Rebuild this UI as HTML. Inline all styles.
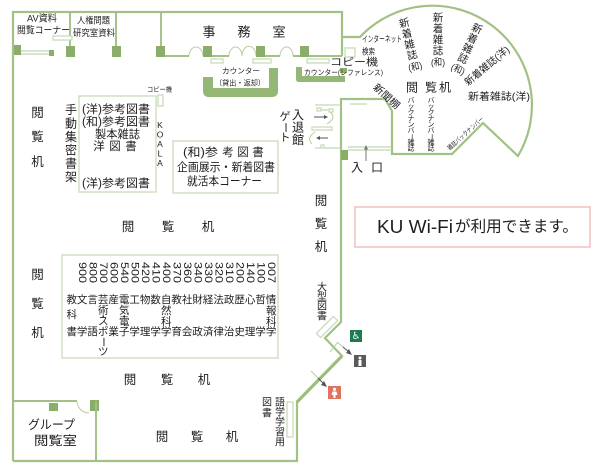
<!DOCTYPE html>
<html><head><meta charset="utf-8">
<style>
html,body{margin:0;padding:0;background:#fff;}
svg{display:block}
text{font-family:"Liberation Sans","Noto Sans CJK JP",sans-serif;fill:#1e1e1e;dominant-baseline:central;text-anchor:middle}
text.s{text-anchor:start}
.w{stroke:#a2c184;stroke-width:2.2;fill:none}
.w2{stroke:#a2c184;stroke-width:1.9;fill:none}
.th{stroke:#b6cf9f;stroke-width:1;fill:none}
.b{stroke:#cadcba;stroke-width:1.3;fill:#fff}
.p{fill:#8aae6a}
.c{fill:#95b776}
.ar{stroke:#555;stroke-width:1;fill:none}
</style></head><body>
<svg width="600" height="473" viewBox="0 0 600 473" xmlns="http://www.w3.org/2000/svg">
<rect width="600" height="473" fill="#fff"/>

<!-- outer walls -->
<path class="w" d="M13,461 V12 H342 V56"/>
<path class="w" d="M342,37 H360 A99.5,99.5 0 0 1 518,156 L483,123 L452,154 H392 V111 L385,99 H341 V322 L325,338 L342,356 L297,402 V461 H13"/>
<line x1="342" y1="356" x2="297" y2="402" stroke="#9dbd7c" stroke-width="3.2"/>

<!-- inner walls top -->
<path class="w2" d="M70,12 V47 M116,12 V47 M161,12 V47 M165,56 H189 M212,56 H229 M265,56 H280 M293,56 H300 M309,56 H342"/>
<path class="th" d="M189,56 A7,9 0 0 1 203,56 M229,56 A6.5,9 0 0 1 242,56 A6.5,9 0 0 1 256,56 M280,56 A6.5,9 0 0 1 293,56"/>
<path class="th" d="M21,51 H50 M21,54 H50"/>

<!-- pillars -->
<rect class="p" x="14" y="45" width="7" height="10"/>
<rect class="p" x="49" y="50" width="5" height="6"/>
<rect class="p" x="66" y="46" width="9" height="11"/>
<rect class="p" x="112" y="46" width="9" height="11"/>
<rect class="p" x="156" y="46" width="9" height="11"/>
<rect class="p" x="203" y="46" width="9" height="11"/>
<rect class="p" x="256" y="46" width="9" height="11"/>
<rect class="p" x="300" y="46" width="9" height="11"/>
<rect class="p" x="340" y="68" width="7" height="5"/>
<rect class="p" x="341" y="150" width="7" height="10"/>
<rect class="p" x="49" y="403" width="9" height="8"/>
<rect class="p" x="90" y="400" width="9" height="11"/>

<!-- small furniture -->
<rect class="b" x="53" y="36" width="19" height="4"/>
<rect class="b" x="211" y="59" width="12" height="4"/>
<rect class="b" x="253" y="59" width="18" height="4"/>
<rect class="b" x="307" y="59" width="22" height="4"/>
<rect class="b" x="345" y="48" width="10" height="9"/>
<rect class="b" x="158" y="95" width="5" height="11"/>
<rect class="b" x="287" y="402" width="6" height="35"/>

<!-- counters -->
<path class="c" d="M203,77 L203,91 Q203,97 209,97 L272,97 Q278,97 278,91 L278,68 L269,68 L269,88 L213,88 L213,77 Z"/>
<path class="c" d="M296,67 L296,79 Q296,82 299,82 L345,82 L345,76 L302,76 L302,67 Z"/>

<!-- boxes -->
<rect class="b" x="79" y="96" width="77" height="96" fill="none"/>
<rect class="b" x="173" y="141" width="105" height="52" fill="none"/>
<rect class="b" x="62" y="255" width="216" height="103" fill="none"/>

<!-- group room -->
<path class="w2" d="M13,401 H77 M96,401 V461"/>
<path class="th" d="M77,401 A12,12 0 0 0 89,413"/>

<!-- gate -->
<path class="th" d="M315,105 H341 M315,148 H341 M321,110 H329 M330,112 Q337,118 327,124 M315,132 Q306,138 312,144"/>
<rect class="b" x="317" y="108" width="4" height="3" stroke-width="0.8"/>
<rect class="b" x="329" y="109" width="4" height="3" stroke-width="0.8"/>
<rect class="b" x="312" y="127" width="20" height="3" stroke-width="0.8"/>
<rect class="b" x="321" y="145" width="3" height="3" stroke-width="0.8"/>
<line class="ar" x1="314" y1="117" x2="325" y2="117"/>
<polygon points="328,117 324,115 324,119" fill="#555"/>
<line class="ar" x1="328" y1="138" x2="319" y2="138"/>
<polygon points="316,138 320,136 320,140" fill="#555"/>

<!-- lobby -->
<path class="th" d="M348,147 H392 M348,150 H392 M350,104 H367"/>
<line x1="366" y1="161" x2="366" y2="148" stroke="#777" stroke-width="1"/>
<polygon points="366,145 364,149.5 368,149.5" fill="#777"/>

<!-- diagonal details -->
<rect class="b" x="-12" y="-3" width="24" height="6" transform="translate(327,327) rotate(-45)"/>
<path class="th" d="M330,352 L338,342 M337,342 L343,347 M311,371 L318,378"/>
<line class="ar" x1="343" y1="347" x2="349" y2="352"/>
<polygon points="352,355 346,353 349,349" fill="#555"/>
<line class="ar" x1="318" y1="378" x2="324" y2="384"/>
<polygon points="327,387 321,385 324,381" fill="#555"/>

<!-- icons -->
<rect x="350" y="330" width="12" height="12" fill="#1e7a50"/>
<text x="356" y="336.5" font-size="10" style="font-family:'DejaVu Sans',sans-serif;fill:#fff">♿</text>
<rect x="354" y="355" width="12" height="12" fill="#5a5a5a"/>
<circle cx="360" cy="358" r="1.5" fill="#fff"/>
<rect x="358.5" y="360" width="3" height="6" fill="#fff"/>
<rect x="328" y="386" width="13" height="13" fill="#e0735f"/>
<circle cx="334.5" cy="389.3" r="1.6" fill="#fff"/>
<path d="M332.5,391.5 H336.5 L337.5,395 H335.5 V398 H333.5 V395 H331.5 Z" fill="#fff"/>

<!-- Wi-Fi box -->
<rect x="355" y="207" width="235" height="40" fill="none" stroke="#f0b0b0" stroke-width="1.2"/>
<text class="s" x="377" y="227" font-size="18" textLength="76" lengthAdjust="spacingAndGlyphs">KU Wi-Fi</text>
<text class="s" x="455" y="227" font-size="15.5" textLength="123" lengthAdjust="spacingAndGlyphs">が利用できます。</text>

<!-- top room texts -->
<text class="s" x="27" y="19" font-size="9.5" textLength="30" lengthAdjust="spacingAndGlyphs">AV資料</text>
<text class="s" x="17" y="31" font-size="9.5" textLength="53" lengthAdjust="spacingAndGlyphs">閲覧コーナー</text>
<text class="s" x="77" y="20.5" font-size="9" textLength="33" lengthAdjust="spacingAndGlyphs">人権問題</text>
<text class="s" x="73" y="33" font-size="9" textLength="42" lengthAdjust="spacingAndGlyphs">研究室資料</text>
<text x="209" y="32" font-size="13">事</text>
<text x="244" y="32" font-size="13">務</text>
<text x="279" y="32" font-size="13">室</text>
<text class="s" x="222" y="71" font-size="7.5" textLength="38" lengthAdjust="spacingAndGlyphs">カウンター</text>
<text class="s" x="215" y="83" font-size="7.5" textLength="50" lengthAdjust="spacingAndGlyphs">（貸出・返却）</text>
<text class="s" x="330" y="63" font-size="10" textLength="48" lengthAdjust="spacingAndGlyphs">コピー機</text>
<text class="s" x="304" y="72.5" font-size="7.5" textLength="79" lengthAdjust="spacingAndGlyphs">カウンター(レファレンス)</text>
<text class="s" x="362" y="39" font-size="8.5" textLength="40" lengthAdjust="spacingAndGlyphs">インターネット</text>
<text class="s" x="362" y="51.5" font-size="8.5" textLength="13" lengthAdjust="spacingAndGlyphs">検索</text>
<text class="s" x="147" y="90" font-size="6.5" textLength="25" lengthAdjust="spacingAndGlyphs">コピー機</text>

<!-- KOALA -->
<text x="160" y="125" font-size="8.5">K</text>
<text x="160" y="134.5" font-size="8.5">O</text>
<text x="160" y="144" font-size="8.5">A</text>
<text x="160" y="153.5" font-size="8.5">L</text>
<text x="160" y="163" font-size="8.5">A</text>

<!-- box1 -->
<text class="s" x="82" y="110" font-size="11.5" textLength="68" lengthAdjust="spacingAndGlyphs">(洋)参考図書</text>
<text class="s" x="82" y="122.5" font-size="11.5" textLength="68" lengthAdjust="spacingAndGlyphs">(和)参考図書</text>
<text class="s" x="95" y="135" font-size="11.5" textLength="45" lengthAdjust="spacingAndGlyphs">製本雑誌</text>
<text x="99" y="147" font-size="11.5">洋</text>
<text x="115" y="147" font-size="11.5">図</text>
<text x="131" y="147" font-size="11.5">書</text>
<text class="s" x="82" y="184" font-size="11.5" textLength="68" lengthAdjust="spacingAndGlyphs">(洋)参考図書</text>

<!-- 手動集密書架 -->
<text x="71" y="110" font-size="12">手</text>
<text x="71" y="123.4" font-size="12">動</text>
<text x="71" y="136.8" font-size="12">集</text>
<text x="71" y="150.2" font-size="12">密</text>
<text x="71" y="163.6" font-size="12">書</text>
<text x="71" y="177" font-size="12">架</text>

<!-- box2 -->
<text class="s" x="183" y="153" font-size="11.5" textLength="35" lengthAdjust="spacingAndGlyphs">(和)参</text>
<text x="228" y="153" font-size="11.5">考</text>
<text x="243" y="153" font-size="11.5">図</text>
<text x="258" y="153" font-size="11.5">書</text>
<text class="s" x="177" y="168" font-size="11.5" textLength="98" lengthAdjust="spacingAndGlyphs">企画展示・新着図書</text>
<text class="s" x="187" y="182" font-size="11.5" textLength="75" lengthAdjust="spacingAndGlyphs">就活本コーナー</text>

<!-- 閲覧机 labels -->
<text x="37.5" y="113" font-size="12.5">閲</text>
<text x="37.5" y="137" font-size="12.5">覧</text>
<text x="37.5" y="162" font-size="12.5">机</text>
<text x="37.5" y="275" font-size="12.5">閲</text>
<text x="37.5" y="304" font-size="12.5">覧</text>
<text x="37.5" y="333" font-size="12.5">机</text>
<text x="128" y="227" font-size="12.5">閲</text>
<text x="168" y="227" font-size="12.5">覧</text>
<text x="208" y="227" font-size="12.5">机</text>
<text x="130" y="380" font-size="12.5">閲</text>
<text x="167" y="380" font-size="12.5">覧</text>
<text x="204" y="380" font-size="12.5">机</text>
<text x="162" y="437" font-size="12.5">閲</text>
<text x="197" y="437" font-size="12.5">覧</text>
<text x="232" y="437" font-size="12.5">机</text>
<text x="321" y="201" font-size="12.5">閲</text>
<text x="321" y="224" font-size="12.5">覧</text>
<text x="321" y="247" font-size="12.5">机</text>
<text x="412" y="87.5" font-size="12">閲</text>
<text x="431" y="87.5" font-size="12">覧</text>
<text x="445" y="87.5" font-size="12">机</text>

<!-- subject table numbers -->
<text class="s" x="-10.5" transform="translate(82.2,272.5) rotate(90)" font-size="11" textLength="21" lengthAdjust="spacingAndGlyphs">900</text>
<text class="s" x="-10.5" transform="translate(92.7,272.5) rotate(90)" font-size="11" textLength="21" lengthAdjust="spacingAndGlyphs">800</text>
<text class="s" x="-10.5" transform="translate(103.2,272.5) rotate(90)" font-size="11" textLength="21" lengthAdjust="spacingAndGlyphs">700</text>
<text class="s" x="-10.5" transform="translate(113.7,272.5) rotate(90)" font-size="11" textLength="21" lengthAdjust="spacingAndGlyphs">600</text>
<text class="s" x="-10.5" transform="translate(124.2,272.5) rotate(90)" font-size="11" textLength="21" lengthAdjust="spacingAndGlyphs">540</text>
<text class="s" x="-10.5" transform="translate(134.7,272.5) rotate(90)" font-size="11" textLength="21" lengthAdjust="spacingAndGlyphs">500</text>
<text class="s" x="-10.5" transform="translate(145.2,272.5) rotate(90)" font-size="11" textLength="21" lengthAdjust="spacingAndGlyphs">420</text>
<text class="s" x="-10.5" transform="translate(155.7,272.5) rotate(90)" font-size="11" textLength="21" lengthAdjust="spacingAndGlyphs">410</text>
<text class="s" x="-10.5" transform="translate(166.2,272.5) rotate(90)" font-size="11" textLength="21" lengthAdjust="spacingAndGlyphs">400</text>
<text class="s" x="-10.5" transform="translate(176.7,272.5) rotate(90)" font-size="11" textLength="21" lengthAdjust="spacingAndGlyphs">370</text>
<text class="s" x="-10.5" transform="translate(187.2,272.5) rotate(90)" font-size="11" textLength="21" lengthAdjust="spacingAndGlyphs">360</text>
<text class="s" x="-10.5" transform="translate(197.7,272.5) rotate(90)" font-size="11" textLength="21" lengthAdjust="spacingAndGlyphs">340</text>
<text class="s" x="-10.5" transform="translate(208.2,272.5) rotate(90)" font-size="11" textLength="21" lengthAdjust="spacingAndGlyphs">330</text>
<text class="s" x="-10.5" transform="translate(218.7,272.5) rotate(90)" font-size="11" textLength="21" lengthAdjust="spacingAndGlyphs">320</text>
<text class="s" x="-10.5" transform="translate(229.2,272.5) rotate(90)" font-size="11" textLength="21" lengthAdjust="spacingAndGlyphs">310</text>
<text class="s" x="-10.5" transform="translate(239.7,272.5) rotate(90)" font-size="11" textLength="21" lengthAdjust="spacingAndGlyphs">200</text>
<text class="s" x="-10.5" transform="translate(250.2,272.5) rotate(90)" font-size="11" textLength="21" lengthAdjust="spacingAndGlyphs">140</text>
<text class="s" x="-10.5" transform="translate(260.7,272.5) rotate(90)" font-size="11" textLength="21" lengthAdjust="spacingAndGlyphs">100</text>
<text class="s" x="-10.5" transform="translate(271.2,272.5) rotate(90)" font-size="11" textLength="21" lengthAdjust="spacingAndGlyphs">007</text>

<!-- subject table chars -->
<text class="s" x="66.45" y="300" font-size="10.5" textLength="210" lengthAdjust="spacingAndGlyphs">教文言芸産電工物数自教社財経法政歴心哲情</text>
<text class="s" x="66.45" y="332" font-size="10.5" textLength="210" lengthAdjust="spacingAndGlyphs">書学語ポ業子学理学学育会政済律治史理学学</text>
<text x="71.7" y="315" font-size="10.5">科</text>
<text x="103.2" y="310.5" font-size="10.5">術</text>
<text x="103.2" y="316.5" font-size="8">・</text>
<text x="103.2" y="321.5" font-size="10.5">ス</text>
<text x="103.2" y="342" font-size="10.5" transform="rotate(90 103.2 342)">ー</text>
<text x="103.2" y="352" font-size="10.5">ツ</text>
<text x="124.2" y="310.5" font-size="10.5">気</text>
<text x="124.2" y="316.5" font-size="8">・</text>
<text x="124.2" y="322" font-size="10.5">電</text>
<text x="166.2" y="311" font-size="10.5">然</text>
<text x="166.2" y="322" font-size="10.5">科</text>
<text x="271.2" y="311" font-size="10.5">報</text>
<text x="271.2" y="322" font-size="10.5">科</text>

<!-- right side vertical texts -->
<text x="322" y="288" font-size="10">大</text>
<text x="322" y="297.5" font-size="10">型</text>
<text x="322" y="307" font-size="10">図</text>
<text x="322" y="317" font-size="10">書</text>
<text x="280" y="403" font-size="10">語</text>
<text x="280" y="413" font-size="10">学</text>
<text x="280" y="423" font-size="10">学</text>
<text x="280" y="433" font-size="10">習</text>
<text x="280" y="443" font-size="10">用</text>
<text x="267" y="403" font-size="10">図</text>
<text x="267" y="414" font-size="10">書</text>

<!-- group room -->
<text class="s" x="28" y="425" font-size="12.5" textLength="47" lengthAdjust="spacingAndGlyphs">グループ</text>
<text class="s" x="34" y="441" font-size="12.5" textLength="43" lengthAdjust="spacingAndGlyphs">閲覧室</text>

<!-- gate / entrance -->
<text x="298" y="115" font-size="12">入</text>
<text x="298" y="127.5" font-size="12">退</text>
<text x="298" y="140" font-size="12">館</text>
<text x="285" y="117" font-size="11">ゲ</text>
<text x="285" y="127.5" font-size="11" transform="rotate(90 285 127.5)">ー</text>
<text x="285" y="138" font-size="11">ト</text>
<text x="357" y="167.5" font-size="12">入</text>
<text x="377" y="167.5" font-size="12">口</text>
<g transform="translate(386,97) rotate(42)">
<text class="s" x="-16" y="0" font-size="10" textLength="32" lengthAdjust="spacingAndGlyphs">新聞棚</text>
</g>

<!-- fan texts -->
<g transform="translate(410,46) rotate(-14)">
<text x="0" y="-23" font-size="10.5">新</text>
<text x="0" y="-12" font-size="10.5">着</text>
<text x="0" y="-1" font-size="10.5">雑</text>
<text x="0" y="10" font-size="10.5">誌</text>
<text class="s" x="-7" y="22" font-size="9.5" textLength="14" lengthAdjust="spacingAndGlyphs">(和)</text>
</g>
<g transform="translate(438,41)">
<text x="0" y="-23" font-size="10.5">新</text>
<text x="0" y="-12" font-size="10.5">着</text>
<text x="0" y="-1" font-size="10.5">雑</text>
<text x="0" y="10" font-size="10.5">誌</text>
<text class="s" x="-7" y="22" font-size="9.5" textLength="14" lengthAdjust="spacingAndGlyphs">(和)</text>
</g>
<g transform="translate(467,50) rotate(25)">
<text x="0" y="-23" font-size="10.5">新</text>
<text x="0" y="-12" font-size="10.5">着</text>
<text x="0" y="-1" font-size="10.5">雑</text>
<text x="0" y="10" font-size="10.5">誌</text>
<text class="s" x="-7" y="22" font-size="9.5" textLength="14" lengthAdjust="spacingAndGlyphs">(和)</text>
</g>
<g transform="translate(487.5,66.5) rotate(-40)">
<text class="s" x="-27.5" y="0" font-size="10" textLength="55" lengthAdjust="spacingAndGlyphs">新着雑誌(洋)</text>
</g>
<text class="s" x="468" y="97.5" font-size="10" textLength="62" lengthAdjust="spacingAndGlyphs">新着雑誌(洋)</text>
<g transform="translate(466,134) rotate(-42)">
<text class="s" x="-23" y="0" font-size="6.5" textLength="46" lengthAdjust="spacingAndGlyphs">雑誌バックナンバー</text>
</g>

<!-- back number columns -->
<g font-size="7">
<text x="411" y="101" font-size="7">バ</text>
<text x="411" y="107" font-size="7">ッ</text>
<text x="411" y="113" font-size="7">ク</text>
<text x="411" y="119" font-size="7">ナ</text>
<text x="411" y="125" font-size="7">ン</text>
<text x="411" y="131" font-size="7">バ</text>
<text x="411" y="137" font-size="7" transform="rotate(90 411 137)">ー</text>
<text x="411" y="143" font-size="7">雑</text>
<text x="411" y="149" font-size="7">誌</text>
<text x="431" y="101" font-size="7">バ</text>
<text x="431" y="107" font-size="7">ッ</text>
<text x="431" y="113" font-size="7">ク</text>
<text x="431" y="119" font-size="7">ナ</text>
<text x="431" y="125" font-size="7">ン</text>
<text x="431" y="131" font-size="7">バ</text>
<text x="431" y="137" font-size="7" transform="rotate(90 431 137)">ー</text>
<text x="431" y="143" font-size="7">雑</text>
<text x="431" y="149" font-size="7">誌</text>
</g>
</svg>
</body></html>
